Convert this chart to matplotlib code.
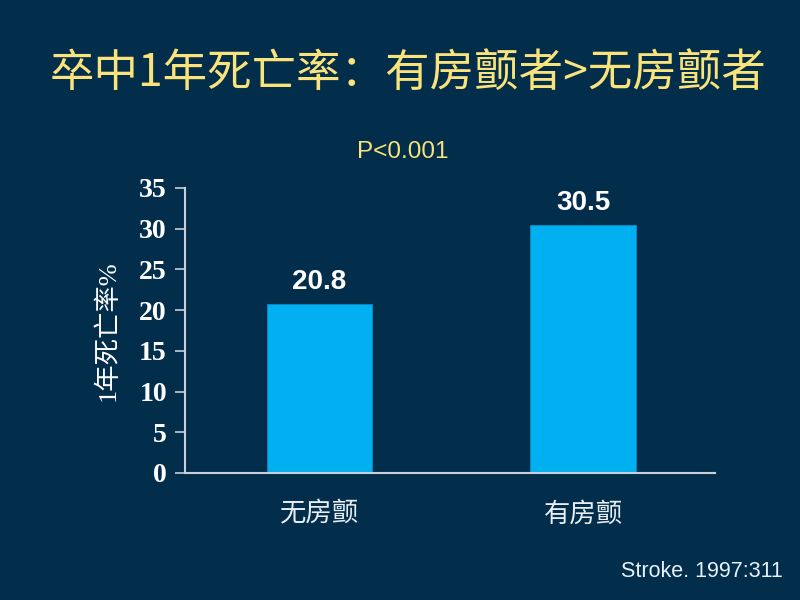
import matplotlib
matplotlib.use("Agg")
import matplotlib.pyplot as plt

plt.rcParams['font.family'] = ['Liberation Sans', 'Noto Sans CJK SC', 'DejaVu Sans']

bg = '#022d4b'
bar_color = '#00b0f0'
yellow = '#f9e37a'

groups = ['无房颤', '有房颤']
mortality = [20.8, 30.5]
yticks = [0, 5, 10, 15, 20, 25, 30, 35]

fig = plt.figure(figsize=(8, 6), dpi=100, facecolor=bg)
ax = fig.add_axes([0.23125, 0.2117, 0.6625, 0.475], facecolor=bg)

x = list(range(len(groups)))
ax.bar(x, mortality, width=0.4, color=bar_color, edgecolor='#0a8fd0', linewidth=0.5)

for xi, v in zip(x, mortality):
    ax.text(xi, v + 1.0, f'{v}', ha='center', va='bottom', color='white',
            fontsize=20, fontweight='bold', family=['Liberation Sans'])

ax.set_xlim(-0.51, 1.5)
ax.set_ylim(0, 35)
ax.set_yticks(yticks)
ax.set_yticklabels([str(t) for t in yticks], family=['Liberation Serif'],
                   fontsize=20, fontweight='bold', color='white')
ax.set_xticks(x)
ax.set_xticklabels(groups, family=['Noto Sans CJK SC'], fontsize=19, color='#e8eef2')
ax.tick_params(axis='x', length=0, pad=20)
ax.tick_params(axis='y', length=7, width=1.2, color='#c8d0d8', pad=6)

for s in ['top', 'right']:
    ax.spines[s].set_visible(False)
for s in ['left', 'bottom']:
    ax.spines[s].set_color('#c8d0d8')
    ax.spines[s].set_linewidth(1.5)

ax.set_ylabel('1年死亡率%', family=['Liberation Serif', 'Noto Sans CJK SC'],
              fontsize=19, color='white', labelpad=14)

fig.text(0.51, 0.878, '卒中1年死亡率：有房颤者>无房颤者', ha='center', va='center',
         color=yellow, fontsize=32, family=['Noto Sans CJK SC', 'Liberation Sans'])
fig.text(0.504, 0.746, 'P<0.001', ha='center', va='center', color=yellow, fontsize=17.5)
fig.text(0.978, 0.047, 'Stroke. 1997:311', ha='right', va='center', color='#e8f2fa', fontsize=15.5)

fig.savefig('out.png', dpi=100, facecolor=bg)
